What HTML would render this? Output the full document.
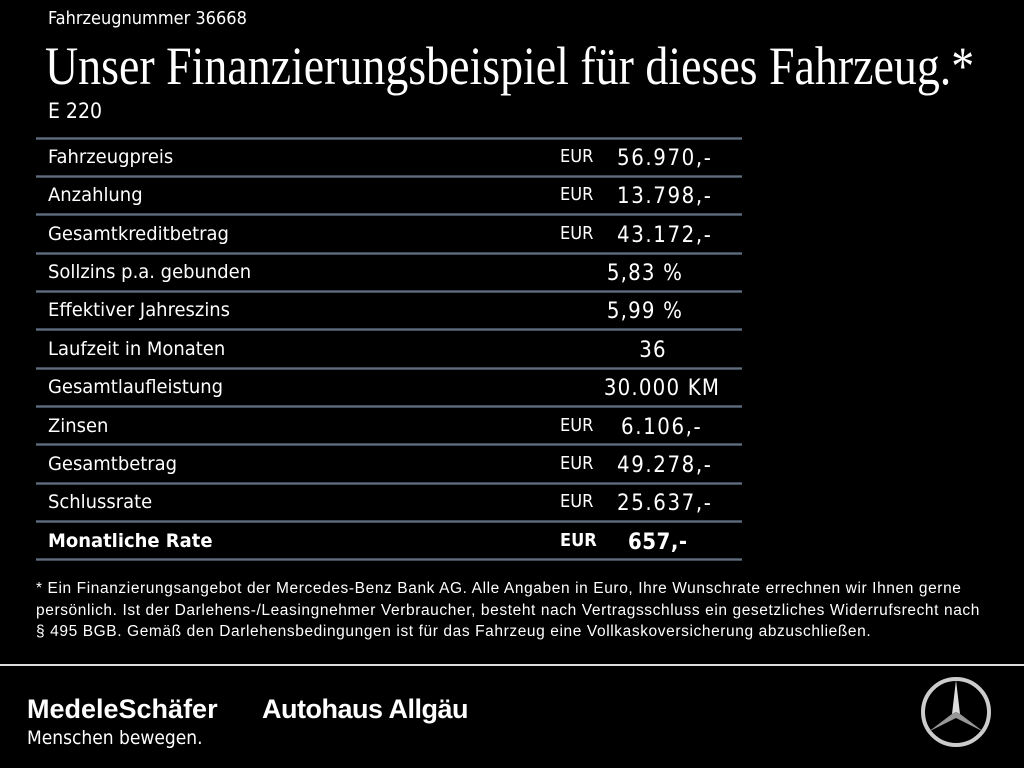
<!DOCTYPE html>
<html><head><meta charset="utf-8"><style>
html,body{margin:0;padding:0;background:#000;width:1024px;height:768px;overflow:hidden;color:#fff;font-family:"Liberation Sans",sans-serif}
.a{position:absolute;white-space:nowrap}
.n{font-family:"DejaVu Sans Condensed","Liberation Sans",sans-serif}
.line{position:absolute;left:36px;width:706px;height:3px;background:linear-gradient(#2a3340,#6c7a8a,#2a3340)}
.lab{position:absolute;left:48px;font-size:19px;font-family:"DejaVu Sans Condensed","Liberation Sans",sans-serif;transform:scaleX(1.05);transform-origin:left}
.eur{position:absolute;left:560px;font-size:18px;font-family:"DejaVu Sans Condensed",sans-serif}
.val{position:absolute;left:617px;font-size:22px;letter-spacing:1.6px;font-family:"DejaVu Sans Condensed",sans-serif}
.c{position:absolute;left:560px;width:200px;text-align:center;font-size:22px;letter-spacing:1.2px;font-family:"DejaVu Sans Condensed",sans-serif}
</style></head><body>
<div class="a n" style="left:48px;top:8px;font-size:18px">Fahrzeugnummer 36668</div>
<div class="a" style="left:45px;top:36px;font-family:'Liberation Serif',serif;font-size:54px;transform:scaleX(.85);transform-origin:left;line-height:60px">Unser Finanzierungsbeispiel für dieses Fahrzeug.*</div>
<div class="a n" style="left:48px;top:99px;font-size:21px">E 220</div>

<div class="line" style="top:137px"></div>
<div class="line" style="top:175px"></div>
<div class="line" style="top:213px"></div>
<div class="line" style="top:252px"></div>
<div class="line" style="top:290px"></div>
<div class="line" style="top:328px"></div>
<div class="line" style="top:367px"></div>
<div class="line" style="top:405px"></div>
<div class="line" style="top:443px"></div>
<div class="line" style="top:482px"></div>
<div class="line" style="top:520px"></div>
<div class="line" style="top:558px"></div>

<div class="lab" style="top:146px">Fahrzeugpreis</div><div class="eur" style="top:146px">EUR</div><div class="val" style="top:146px">56.970,-</div>
<div class="lab" style="top:184px">Anzahlung</div><div class="eur" style="top:184px">EUR</div><div class="val" style="top:184px">13.798,-</div>
<div class="lab" style="top:223px">Gesamtkreditbetrag</div><div class="eur" style="top:223px">EUR</div><div class="val" style="top:223px">43.172,-</div>
<div class="lab" style="top:261px">Sollzins p.a. gebunden</div><div class="c" style="top:261px;left:545px">5,83 %</div>
<div class="lab" style="top:299px">Effektiver Jahreszins</div><div class="c" style="top:299px;left:545px">5,99 %</div>
<div class="lab" style="top:338px">Laufzeit in Monaten</div><div class="c" style="top:338px;left:553px">36</div>
<div class="lab" style="top:376px">Gesamtlaufleistung</div><div class="c" style="top:376px;left:562px">30.000 KM</div>
<div class="lab" style="top:415px">Zinsen</div><div class="eur" style="top:415px">EUR</div><div class="val" style="top:415px;left:621px">6.106,-</div>
<div class="lab" style="top:453px">Gesamtbetrag</div><div class="eur" style="top:453px">EUR</div><div class="val" style="top:453px">49.278,-</div>
<div class="lab" style="top:491px">Schlussrate</div><div class="eur" style="top:491px">EUR</div><div class="val" style="top:491px">25.637,-</div>
<div class="lab" style="top:530px;font-weight:bold">Monatliche Rate</div><div class="eur" style="top:530px;font-weight:bold">EUR</div><div class="val" style="top:530px;left:628px;font-weight:bold;letter-spacing:0.5px">657,-</div>

<div class="a" style="left:36px;top:578px;font-size:15.5px;letter-spacing:0.6px;line-height:21.5px">* Ein Finanzierungsangebot der Mercedes-Benz Bank AG. Alle Angaben in Euro, Ihre Wunschrate errechnen wir Ihnen gerne<br>persönlich. Ist der Darlehens-/Leasingnehmer Verbraucher, besteht nach Vertragsschluss ein gesetzliches Widerrufsrecht nach<br>§ 495 BGB. Gemäß den Darlehensbedingungen ist für das Fahrzeug eine Vollkaskoversicherung abzuschließen.</div>

<div class="a" style="left:0;top:664px;width:1024px;height:2px;background:#ddd"></div>
<div class="a" style="left:27px;top:694px;font-size:27px;font-weight:bold;letter-spacing:0px">MedeleSchäfer</div>
<div class="a" style="left:262px;top:694px;font-size:27px;font-weight:bold;letter-spacing:-0.5px">Autohaus Allgäu</div>
<div class="a n" style="left:27px;top:727px;font-size:19px">Menschen bewegen.</div>
<svg class="a" style="left:918px;top:674px" width="76" height="76" viewBox="0 0 76 76">
<circle cx="38" cy="38" r="33" fill="none" stroke="#ccc" stroke-width="4"/>
<polygon points="38,6 42,40 38,38 34,40" fill="#ddd"/>
<polygon points="38,38 42,40 66,58" fill="#bbb"/><polygon points="38,38 34,40 10,58" fill="#bbb"/>
<polygon points="38,38 66,58 36,43" fill="#999"/><polygon points="38,38 10,58 40,43" fill="#999"/>
</svg>
</body></html>
